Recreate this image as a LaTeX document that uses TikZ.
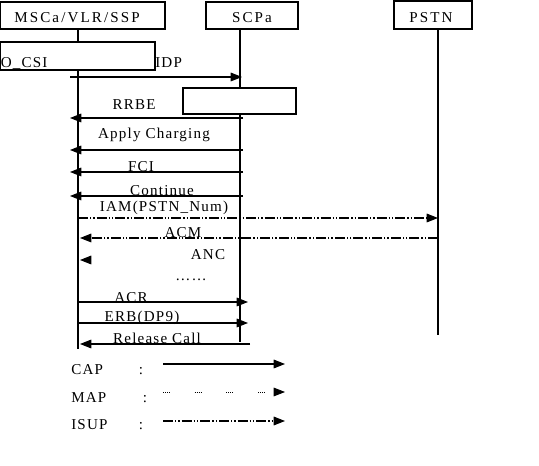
\documentclass[tikz,border=0pt]{standalone}
\usepackage{fontspec}
\setmainfont{Liberation Serif}[LetterSpace=8]
\newfontfamily\widefont{Liberation Serif}[LetterSpace=14]
\usetikzlibrary{arrows.meta, positioning}
\newcommand{\msgfont}{\fontsize{11.3}{13}\selectfont}

\begin{document}
\begin{tikzpicture}[x=0.75pt, y=-0.75pt,
        entity/.style={rectangle, draw, line width=0.8pt, inner sep=0pt, fill=white},
        entitylbl/.style={font=\widefont\msgfont, inner sep=0pt, anchor=base},
        lifeline/.style={line width=0.8pt},
        msg/.style={font=\msgfont, inner sep=0pt},
        capmsg/.style={line width=0.8pt, -{Triangle[length=8.5pt, width=6.5pt]}},
        isupmsg/.style={capmsg, dash pattern=on 7.5pt off 1.5pt on 1pt off 1.5pt on 1pt off 1.5pt},
        mapmsg/.style={capmsg, line width=0.6pt, dash pattern=on 0.75pt off 0.75pt on 0.75pt off 0.75pt on 0.75pt off 0.75pt on 0.75pt off 18.5pt}
    ]
        \useasboundingbox (0,0) rectangle (539,466);

        % entities
        \node[entity, minimum width=123.75pt, minimum height=20.25pt] (msc) at (82.5,15.5) {};
        \node[entity, minimum width=69pt, minimum height=20.25pt] (scp) at (252,15.5) {};
        \node[entity, minimum width=58.5pt, minimum height=21pt] (pstn) at (433,15) {};
        \node[entitylbl] (msclbl) at (77,23) {MSCa/VLR/SSP};
        \node[entitylbl] (scplbl) at (252,23) {SCPa};
        \node[entitylbl] (pstnlbl) at (431,23) {PSTN};

        % lifelines
        \coordinate (mscend) at (78,349);
        \coordinate (scpend) at (240,342);
        \coordinate (pstnend) at (438,335);
        \draw[lifeline] (mscend |- msc.south) -- (mscend);
        \draw[lifeline] (scpend |- scp.south) -- (scpend);
        \draw[lifeline] (pstnend |- pstn.south) -- (pstnend);

        % trigger boxes
        \node[entity, minimum width=116.25pt, minimum height=21pt] (ocsi) at (77.5,56) {};
        \node[msg, anchor=base west] (ocsilbl) at (0.5,68) {O\_CSI};
        \node[entity, minimum width=84.75pt, minimum height=19.5pt] (scpbox) at (239.5,101) {};

        % CAP messages
        \coordinate (idpS) at (70,77);
        \coordinate (idpT) at (242,77);
        \draw[capmsg] (idpS) -- (idpT);
        \node[msg, anchor=base west] (idp) at (155,68) {IDP};

        \foreach \y/\name in {118/rrbe, 150/charge, 172/fci, 196/cont} {
            \coordinate (\name S) at (243,\y);
            \coordinate (\name T) at (70,\y);
            \draw[capmsg] (\name S) -- (\name T);
        }
        \node[msg, anchor=base] (rrbe) at (134,110) {RRBE};
        \node[msg, anchor=base] (charge) at (154,139) {Apply Charging};
        \node[msg, anchor=base] (fci) at (141,172) {FCI};
        \node[msg, anchor=base] (cont) at (162,196) {Continue};

        % ISUP messages
        \coordinate (iamS) at (78,218);
        \coordinate (iamT) at (438,218);
        \draw[isupmsg] (iamS) -- (iamT);
        \node[msg, anchor=base] (iam) at (164,212) {IAM(PSTN\_Num)};

        \coordinate (acmS) at (438,238);
        \coordinate (acmT) at (80,238);
        \draw[isupmsg] (acmS) -- (acmT);
        \node[msg, anchor=base] (acm) at (183,238) {ACM};

        \coordinate (ancS) at (90,260);
        \coordinate (ancT) at (80,260);
        \draw[capmsg] (ancS) -- (ancT);
        \node[msg, anchor=base] (anc) at (208,260) {ANC};
        \node[msg, anchor=base] (gap) at (191,281) {……};

        % release phase
        \coordinate (acrS) at (78,302);
        \coordinate (acrT) at (248,302);
        \draw[capmsg] (acrS) -- (acrT);
        \node[msg, anchor=base] (acr) at (131,303) {ACR};

        \coordinate (erbS) at (78,323);
        \coordinate (erbT) at (248,323);
        \draw[capmsg] (erbS) -- (erbT);
        \node[msg, anchor=base] (erb) at (142,322) {ERB(DP9)};

        \coordinate (relS) at (250,344);
        \coordinate (relT) at (80,344);
        \draw[capmsg] (relS) -- (relT);
        \node[msg, anchor=base] (rel) at (157,344) {Release Call};

        % legend
        \node[msg, anchor=base west] (capkey) at (71,375) {CAP};
        \node[msg, anchor=base] (capcolon) at (141,375) {:};
        \coordinate (capS) at (163,364);
        \coordinate (capT) at (285,364);
        \draw[capmsg] (capS) -- (capT);

        \node[msg, anchor=base west] (mapkey) at (71,403) {MAP};
        \node[msg, anchor=base] (mapcolon) at (145,403) {:};
        \coordinate (mapS) at (163,392);
        \coordinate (mapT) at (285,392);
        \draw[mapmsg] (mapS) -- (mapT);

        \node[msg, anchor=base west] (isupkey) at (71,430) {ISUP};
        \node[msg, anchor=base] (isupcolon) at (141,430) {:};
        \coordinate (isupS) at (163,421);
        \coordinate (isupT) at (285,421);
        \draw[isupmsg] (isupS) -- (isupT);
    \end{tikzpicture}
\end{document}
